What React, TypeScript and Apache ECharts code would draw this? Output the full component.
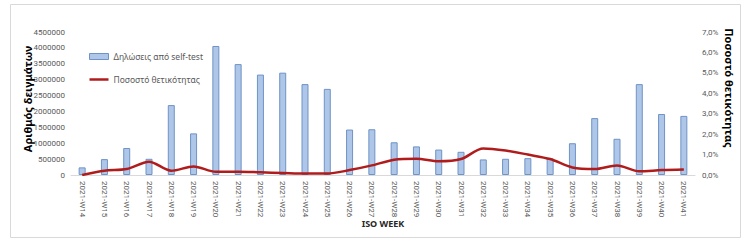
import React, { useEffect, useRef } from "react";
import * as echarts from "echarts";

const weeks = [
  "2021-W14", "2021-W15", "2021-W16", "2021-W17", "2021-W18", "2021-W19", "2021-W20",
  "2021-W21", "2021-W22", "2021-W23", "2021-W24", "2021-W25", "2021-W26", "2021-W27",
  "2021-W28", "2021-W29", "2021-W30", "2021-W31", "2021-W32", "2021-W33", "2021-W34",
  "2021-W35", "2021-W36", "2021-W37", "2021-W38", "2021-W39", "2021-W40", "2021-W41",
];

const selfTests = [
  240000, 500000, 850000, 510000, 2200000, 1310000, 4060000,
  3490000, 3160000, 3220000, 2860000, 2710000, 1430000, 1440000,
  1030000, 900000, 800000, 730000, 490000, 510000, 530000,
  520000, 1000000, 1790000, 1140000, 2860000, 1920000, 1860000,
];

const positivity = [
  0.0, 0.21, 0.29, 0.65, 0.21, 0.42, 0.16,
  0.16, 0.13, 0.1, 0.07, 0.07, 0.24, 0.47,
  0.75, 0.8, 0.67, 0.78, 1.3, 1.2, 1.0,
  0.78, 0.37, 0.29, 0.47, 0.18, 0.24, 0.27,
];

const leftName = "Αριθμός δειγμάτων";
const rightName = "Ποσοστό θετικότητας";
const barName = "Δηλώσεις από self-test";
const lineName = "Ποσοστό θετικότητας";
const xName = "ISO WEEK";

const FONT = "Noto Sans";
const TICK_FONT = "Roboto";

export default function App() {
  const ref = useRef<HTMLDivElement>(null);
  useEffect(() => {
    document.body.style.margin = "0";
    const chart = echarts.init(ref.current!, null, { renderer: "svg" });
    chart.setOption({
      animation: false,
      backgroundColor: "#ffffff",
      textStyle: { fontFamily: FONT },
      grid: { left: 71, right: 48, top: 32, bottom: 77, containLabel: false },
      legend: {
        orient: "vertical",
        left: 84,
        top: 47,
        itemGap: 14,
        itemWidth: 19,
        itemHeight: 6,
        itemStyle: { borderColor: "#6f93c6", borderWidth: 1 },
        textStyle: { fontSize: 8.5, color: "#595959", fontFamily: FONT },
        data: [
          { name: barName, icon: "rect" },
          {
            name: lineName,
            icon: "path://M0,0H19V2.5H0Z",
            itemStyle: { color: "#b01c1c", borderWidth: 0 },
          },
        ],
      },
      graphic: [
        {
          type: "rect",
          shape: { x: 10.5, y: 4.5, width: 730, height: 233 },
          style: { fill: "none", stroke: "#d9d9d9", lineWidth: 1 },
          silent: true,
        },
        {
          type: "text",
          x: 27,
          y: 99,
          rotation: Math.PI / 2,
          style: {
            text: leftName,
            fontSize: 11,
            fontWeight: "bold",
            fill: "#000000",
            fontFamily: FONT,
            align: "center",
            verticalAlign: "middle",
          },
        },
        {
          type: "text",
          x: 729,
          y: 88,
          rotation: -Math.PI / 2,
          style: {
            text: rightName,
            fontSize: 11,
            fontWeight: "bold",
            fill: "#000000",
            fontFamily: FONT,
            align: "center",
            verticalAlign: "middle",
          },
        },
        {
          type: "text",
          x: 383,
          y: 223,
          style: {
            text: xName,
            fontSize: 9,
            fontWeight: "bold",
            fill: "#262626",
            fontFamily: FONT,
            align: "center",
            verticalAlign: "middle",
          },
        },
      ],
      xAxis: {
        type: "category",
        data: weeks,
        axisLine: { lineStyle: { color: "#d9d9d9" } },
        axisTick: { show: false },
        axisLabel: {
          rotate: -90,
          interval: 0,
          fontSize: 8,
          color: "#595959",
          margin: 6,
          fontFamily: TICK_FONT,
        },
      },
      yAxis: [
        {
          type: "value",
          min: 0,
          max: 4500000,
          interval: 500000,
          splitLine: { show: false },
          axisLine: { show: false },
          axisTick: { show: false },
          axisLabel: {
            fontSize: 8,
            color: "#595959",
            margin: 6,
            fontFamily: TICK_FONT,
            formatter: (v: number) => String(v),
          },
        },
        {
          type: "value",
          min: 0,
          max: 7,
          interval: 1,
          splitLine: { show: false },
          axisLine: { show: false },
          axisTick: { show: false },
          axisLabel: {
            fontSize: 8,
            color: "#595959",
            margin: 7,
            fontFamily: TICK_FONT,
            formatter: (v: number) => v.toFixed(1).replace(".", ",") + "%",
          },
        },
      ],
      series: [
        {
          name: barName,
          type: "bar",
          data: selfTests,
          barWidth: 7,
          itemStyle: { color: "#aec6e8", borderColor: "#6f93c6", borderWidth: 1 },
        },
        {
          name: lineName,
          type: "line",
          yAxisIndex: 1,
          data: positivity,
          smooth: 0.3,
          symbol: "none",
          lineStyle: { color: "#b01c1c", width: 2.5 },
          itemStyle: { color: "#b01c1c" },
        },
      ],
    });
    return () => chart.dispose();
  }, []);
  return <div ref={ref} style={{ width: 743, height: 252 }} />;
}
